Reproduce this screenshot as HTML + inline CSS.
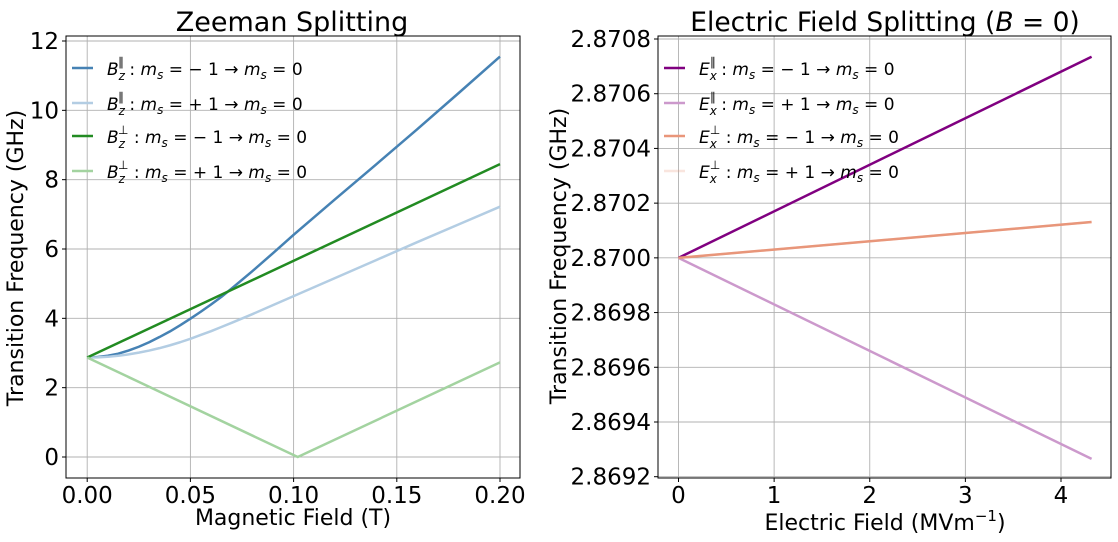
<!DOCTYPE html>
<html><head><meta charset="utf-8"><style>
body{margin:0;background:#fff;}
svg{display:block;font-family:"DejaVu Sans","Liberation Sans",sans-serif;}
</style></head><body>
<svg id="chart" width="1118" height="542" viewBox="0 0 1118 542" xmlns="http://www.w3.org/2000/svg">
<g id="left"></g>
<g id="right"></g>
</svg>
<script>
// ---- Left chart data ----
const bField = [0,0.005,0.01,0.015,0.02,0.025,0.03,0.035,0.04,0.045,0.05,0.055,0.06,0.065,0.07,0.08,0.09,0.10,0.12,0.14,0.16,0.18,0.20];
const bParMinus = [2.87,2.885,2.92,2.98,3.07,3.18,3.31,3.46,3.62,3.8,3.99,4.19,4.4,4.62,4.86,5.36,5.88,6.41,7.43,8.44,9.46,10.5,11.55];
const bParPlus = [2.87,2.875,2.89,2.92,2.96,3.01,3.07,3.14,3.22,3.31,3.41,3.52,3.63,3.75,3.87,4.12,4.38,4.64,5.16,5.68,6.2,6.71,7.22];
const bPerpX = [0,0.2];
const bPerpMinus = [2.87,8.45];
const bPerpPlusX = [0,0.102,0.2];
const bPerpPlus = [2.87,0.0,2.73];
const leftXTicks = [0,0.05,0.10,0.15,0.20];
const leftXTickLabels = ["0.00","0.05","0.10","0.15","0.20"];
const leftYTicks = [0,2,4,6,8,10,12];
const leftYTickLabels = ["0","2","4","6","8","10","12"];
// ---- Right chart data ----
const eField = [0,4.32];
const eParMinus = [2.87,2.870735];
const eParPlus = [2.87,2.869265];
const ePerpMinus = [2.87,2.870131];
const ePerpPlus = [2.87,2.870131];
const rightXTicks = [0,1,2,3,4];
const rightXTickLabels = ["0","1","2","3","4"];
const rightYTicks = [2.8692,2.8694,2.8696,2.8698,2.87,2.8702,2.8704,2.8706,2.8708];
const rightYTickLabels = ["2.8692","2.8694","2.8696","2.8698","2.8700","2.8702","2.8704","2.8706","2.8708"];

const NS="http://www.w3.org/2000/svg";
function mk(tag,attrs,parent){const e=document.createElementNS(NS,tag);for(const k in attrs)e.setAttribute(k,attrs[k]);parent.appendChild(e);return e;}

function drawChart(g,o){
  const sx=v=>o.x0+(v-o.xa)/(o.xb-o.xa)*(o.x1-o.x0);
  const sy=v=>o.y0+(v-o.ya)/(o.yb-o.ya)*(o.y1-o.y0);
  o.xt.forEach((t,i)=>{
    const x=sx(t);
    const gl=mk('line',{x1:x,x2:x,y1:o.top,y2:o.bot,stroke:'#b0b0b0','stroke-width':0.9},g);
    
    
    mk('line',{x1:x,x2:x,y1:o.bot,y2:o.bot+4,stroke:'#000','stroke-width':1},g);
    const tl=mk('text',{x:x,y:o.bot+25,'font-size':23,'text-anchor':'middle',fill:'#000'},g);
    tl.textContent=o.xl[i];
    
    
  });
  o.yt.forEach((t,i)=>{
    const y=sy(t);
    const gl=mk('line',{x1:o.left,x2:o.right,y1:y,y2:y,stroke:'#b0b0b0','stroke-width':0.9},g);
    
    
    mk('line',{x1:o.left-4,x2:o.left,y1:y,y2:y,stroke:'#000','stroke-width':1},g);
    const tl=mk('text',{x:o.left-7,y:y+8,'font-size':23,'text-anchor':'end',fill:'#000'},g);
    tl.textContent=o.yl[i];
    
    
  });
  o.series.forEach(s=>{
    const pts=s.x.map((xv,i)=>sx(xv).toFixed(2)+','+sy(s.y[i]).toFixed(2)).join(' ');
    const p=mk('polyline',{points:pts,fill:'none',stroke:s.c,'stroke-width':2.5,'stroke-linejoin':'round'},g);
    
    
  });
  const fr=mk('rect',{x:o.left,y:o.top,width:o.right-o.left,height:o.bot-o.top,fill:'none',stroke:'#000','stroke-width':1},g);
  
  
  const rows=[68,103,136,171];
  o.series.forEach((s,i)=>{
    const y=rows[i];
    const lg=mk('g',{},g);
    
    
    mk('line',{x1:o.legX,x2:o.legX+21,y1:y,y2:y,stroke:s.c,'stroke-width':2.5},lg);
    const t=mk('text',{x:o.legX+35,y:y+7,'font-size':17,fill:'#000'},lg);
    t.innerHTML='<tspan font-style="italic">'+o.sym+'</tspan><tspan dy="5" font-size="12" font-style="italic">'+o.sub+'</tspan><tspan dx="-7" dy="-14" font-size="12">'+(i<2?'∥':'⊥')+'</tspan><tspan dy="9"> : </tspan><tspan font-style="italic">m</tspan><tspan dy="4" font-size="12" font-style="italic">s</tspan><tspan dy="-4"> = '+(i%2==0?'− 1':'+ 1')+' → </tspan><tspan font-style="italic">m</tspan><tspan dy="4" font-size="12" font-style="italic">s</tspan><tspan dy="-4"> = 0</tspan>';
  });
}

drawChart(document.getElementById('left'),{
  left:66,right:520,top:36,bot:478,
  xa:0,xb:0.2,x0:87.2,x1:500,ya:0,yb:12,y0:457,y1:41,
  xt:leftXTicks,xl:leftXTickLabels,yt:leftYTicks,yl:leftYTickLabels,
  legX:72,sym:'B',sub:'z',
  series:[
    {name:'b-par-minus-line',x:bField,y:bParMinus,c:'#4682b4'},
    {name:'b-par-plus-line',x:bField,y:bParPlus,c:'#b3cde3'},
    {name:'b-perp-minus-line',x:bPerpX,y:bPerpMinus,c:'#228b22'},
    {name:'b-perp-plus-line',x:bPerpPlusX,y:bPerpPlus,c:'#a3d3a0'}
  ]});

drawChart(document.getElementById('right'),{
  left:658,right:1111,top:36,bot:478,
  xa:0,xb:4,x0:678.5,x1:1061,ya:2.8692,yb:2.8708,y0:476.7,y1:39,
  xt:rightXTicks,xl:rightXTickLabels,yt:rightYTicks,yl:rightYTickLabels,
  legX:664,sym:'E',sub:'x',
  series:[
    {name:'e-par-minus-line',x:eField,y:eParMinus,c:'#800080'},
    {name:'e-par-plus-line',x:eField,y:eParPlus,c:'#cc99cc'},
    {name:'e-perp-minus-line',x:eField,y:ePerpMinus,c:'#e9967a'},
    {name:'e-perp-plus-line',x:eField,y:ePerpPlus,c:'rgba(233,150,122,0.25)'}
  ]});

const svg=document.getElementById('chart');
function lbl(txt,attrs,name){const t=mk('text',attrs,svg);t.innerHTML=txt;return t;}
lbl('Zeeman Splitting',{x:292,y:31,'font-size':27,'text-anchor':'middle'},'left-title');
lbl('Electric Field Splitting (<tspan font-style="italic">B</tspan> = 0)',{x:885,y:31,'font-size':26.5,'text-anchor':'middle'},'right-title');
lbl('Magnetic Field (T)',{x:293,y:525,'font-size':22,'text-anchor':'middle'},'left-x-axis-title');
lbl('Electric Field (MVm<tspan dy="-9" font-size="15">−1</tspan><tspan dy="9">)</tspan>',{x:885,y:530,'font-size':22,'text-anchor':'middle'},'right-x-axis-title');
lbl('Transition Frequency (GHz)',{x:0,y:0,'font-size':22,'text-anchor':'middle',transform:'translate(23,258) rotate(-90)'},'left-y-axis-title');
lbl('Transition Frequency (GHz)',{x:0,y:0,'font-size':22,'text-anchor':'middle',transform:'translate(566,256) rotate(-90)'},'right-y-axis-title');
</script>
</body></html>
